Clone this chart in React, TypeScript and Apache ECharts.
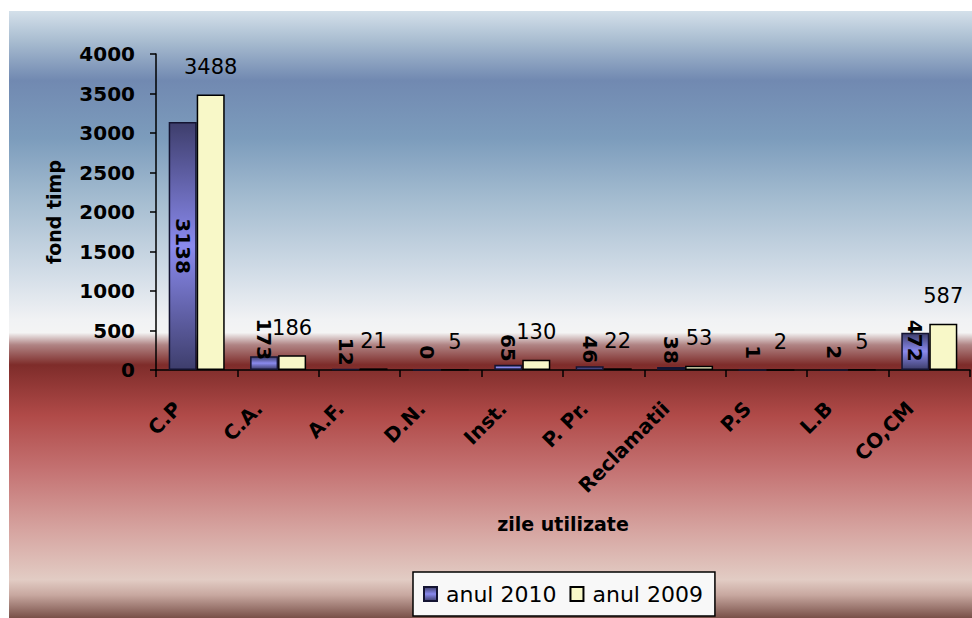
import React, { useEffect, useRef } from "react";
import * as echarts from "echarts";

const categories = ["C.P", "C.A.", "A.F.", "D.N.", "Inst.", "P. Pr.", "Reclamatii", "P.S", "L.B", "CO,CM"];
const values2010 = [3138, 173, 12, 0, 65, 46, 38, 1, 2, 472];
const values2009 = [3488, 186, 21, 5, 130, 22, 53, 2, 5, 587];
const seriesNames = ["anul 2010", "anul 2009"];
const yMin = 0;
const yMax = 4000;
const yInterval = 500;

const FONT = "DejaVu Sans";

export default function App() {
  const ref = useRef<HTMLDivElement>(null);

  useEffect(() => {
    if (!ref.current) return;
    const chart = echarts.init(ref.current, undefined, { renderer: "svg" });

    const bgGradient = {
      type: "linear",
      x: 0, y: 0, x2: 0, y2: 1,
      colorStops: [
        { offset: 0, color: "#d4e0ea" },
        { offset: 0.05, color: "#a8bcd0" },
        { offset: 0.114, color: "#7189b1" },
        { offset: 0.21, color: "#7c9cbc" },
        { offset: 0.31, color: "#a4bcd0" },
        { offset: 0.437, color: "#d4dee8" },
        { offset: 0.509, color: "#f1f2f4" },
        { offset: 0.53, color: "#f4f4f4" },
        { offset: 0.55, color: "#b08484" },
        { offset: 0.583, color: "#7e2c2a" },
        { offset: 0.666, color: "#b04a48" },
        { offset: 0.756, color: "#c47272" },
        { offset: 0.855, color: "#d6a4a0" },
        { offset: 0.937, color: "#e2ccc4" },
        { offset: 0.962, color: "#c8a8a0" },
        { offset: 1, color: "#785048" },
      ],
    };

    const barGradient2010 = {
      type: "linear",
      x: 0, y: 0, x2: 0, y2: 1,
      colorStops: [
        { offset: 0, color: "#3e3e6c" },
        { offset: 0.5, color: "#8a8aee" },
        { offset: 1, color: "#3e3e6c" },
      ],
    };

    const lastIdx = categories.length - 1;
    const data2010 = values2010.map((v, i) => {
      if (i === 0) {
        return { value: v, label: { position: "inside" } };
      }
      if (i === lastIdx) {
        return { value: v, label: { position: "insideTop", distance: 8 } };
      }
      return { value: v };
    });

    const option: any = {
      animation: false,
      backgroundColor: "#ffffff",
      textStyle: { fontFamily: FONT },
      graphic: {
        z: -10,
        elements: [
          {
            type: "rect",
            z: -10,
            silent: true,
            shape: { x: 9, y: 11, width: 963, height: 607 },
            style: { fill: bgGradient },
          },
        ],
      },
      grid: { left: 156, right: 2, top: 54, bottom: 248, containLabel: false },
      legend: {
        data: seriesNames,
        left: 413,
        top: 572,
        orient: "horizontal",
        backgroundColor: "#f8f8f8",
        borderColor: "#000",
        borderWidth: 1.5,
        borderRadius: 0,
        padding: [11, 12, 11, 10],
        itemGap: 13,
        itemWidth: 13,
        itemHeight: 14,
        icon: "rect",
        textStyle: { fontFamily: FONT, fontSize: 22, color: "#000", padding: [0, 0, 0, 4] },
      },
      xAxis: {
        type: "category",
        data: categories,
        name: "zile utilizate",
        nameLocation: "middle",
        nameGap: 144,
        nameTextStyle: { fontFamily: FONT, fontSize: 19, fontWeight: "bold", color: "#000" },
        axisLine: { show: true, lineStyle: { color: "#000", width: 1.5 } },
        axisTick: { show: true, length: 7, lineStyle: { color: "#000", width: 1.5 } },
        axisLabel: {
          interval: 0,
          rotate: 45,
          margin: 16,
          padding: [0, 27, 0, 0],
          fontFamily: FONT,
          fontSize: 20,
          fontWeight: "bold",
          color: "#000",
        },
        splitLine: { show: false },
      },
      yAxis: {
        type: "value",
        min: yMin,
        max: yMax,
        interval: yInterval,
        name: "fond timp",
        nameLocation: "middle",
        nameRotate: 90,
        nameGap: 93,
        nameTextStyle: { fontFamily: FONT, fontSize: 19, fontWeight: "bold", color: "#000" },
        axisLine: { show: true, lineStyle: { color: "#000", width: 1.5 } },
        axisTick: { show: true, length: 6, lineStyle: { color: "#000", width: 1.5 } },
        axisLabel: {
          margin: 21,
          fontFamily: FONT,
          fontSize: 20,
          fontWeight: "bold",
          color: "#000",
          formatter: (v: number) => String(v),
        },
        splitLine: { show: false },
      },
      series: [
        {
          name: seriesNames[0],
          type: "bar",
          data: data2010,
          barWidth: 28,
          barGap: "0%",
          itemStyle: { color: barGradient2010, borderColor: "#141432", borderWidth: 1.5 },
          label: {
            show: true,
            position: "top",
            distance: 17,
            rotate: -90,
            align: "center",
            verticalAlign: "middle",
            fontFamily: FONT,
            fontSize: 20,
            fontWeight: "bold",
            color: "#000",
          },
        },
        {
          name: seriesNames[1],
          type: "bar",
          data: values2009,
          barWidth: 28,
          barGap: "0%",
          itemStyle: { color: "#f8f8c8", borderColor: "#000", borderWidth: 1.5 },
          label: {
            show: true,
            position: "top",
            distance: 17,
            fontFamily: FONT,
            fontSize: 21,
            color: "#000",
          },
        },
      ],
    };

    chart.setOption(option);
    return () => {
      chart.dispose();
    };
  }, []);

  return (
    <div
      ref={ref}
      style={{ position: "absolute", left: 0, top: 0, width: 972, height: 618 }}
    />
  );
}
